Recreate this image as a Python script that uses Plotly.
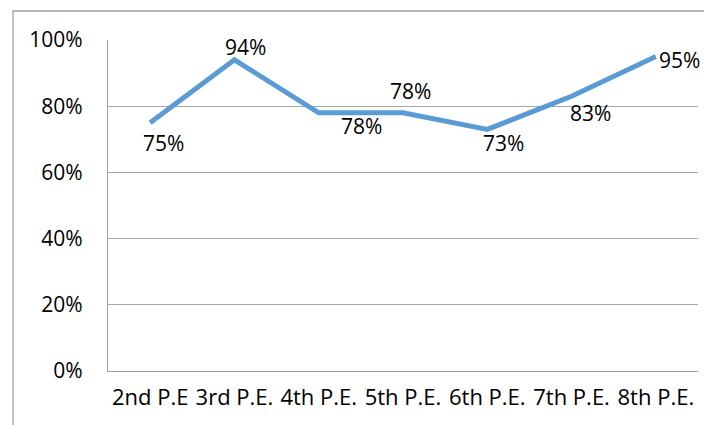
import plotly.graph_objects as go

categories = ["2nd P.E", "3rd P.E.", "4th P.E.", "5th P.E.", "6th P.E.", "7th P.E.", "8th P.E."]
values = [75, 94, 78, 78, 73, 83, 95]
y_ticks = [0, 20, 40, 60, 80, 100]
y_tick_labels = ["0%", "20%", "40%", "60%", "80%", "100%"]

# label offsets in pixels (dx, dy) as placed in the reference
label_offsets = [(13, -20), (11, 13), (43, -13), (7, 22), (16, -14), (19, -17), (24, -3)]

FONT = "Open Sans"
FS = 21
fig = go.Figure()
fig.add_trace(go.Scatter(
    x=categories, y=values, mode="lines",
    line=dict(color="#5B9BD5", width=5, shape="linear"),
    hoverinfo="skip", showlegend=False,
))

for c, v, (dx, dy) in zip(categories, values, label_offsets):
    fig.add_annotation(
        x=c, y=v, text=f"{v}%", showarrow=False,
        xshift=dx, yshift=dy, xanchor="center", yanchor="middle",
        font=dict(family=FONT, size=FS, color="#000000"),
    )

# outer chart frame
fig.add_shape(type="rect", xref="paper", yref="paper",
              x0=-0.161, x1=1.05, y0=-0.4, y1=1.0876,
              line=dict(color="#A0A0A0", width=1.3), fillcolor="rgba(0,0,0,0)", layer="below")

fig.update_layout(
    width=704, height=417,
    margin=dict(l=100, r=14, t=32, b=54),
    paper_bgcolor="white", plot_bgcolor="white",
    font=dict(family=FONT, size=FS, color="#000000"),
    xaxis=dict(type="category", range=[-0.5, 6.5], showgrid=False,
               showline=True, linecolor="#A0A0A0", linewidth=1.3,
               ticks="", ticklabelstandoff=6, tickfont=dict(size=22)),
    yaxis=dict(range=[0, 100], tickvals=y_ticks, ticktext=y_tick_labels,
               showgrid=True, gridcolor="#A6A6A6", gridwidth=1,
               showline=True, linecolor="#A0A0A0", linewidth=1.3,
               zeroline=False, ticks="", ticklabelstandoff=20,
               tickfont=dict(size=FS)),
)

fig.write_html("out.html")
